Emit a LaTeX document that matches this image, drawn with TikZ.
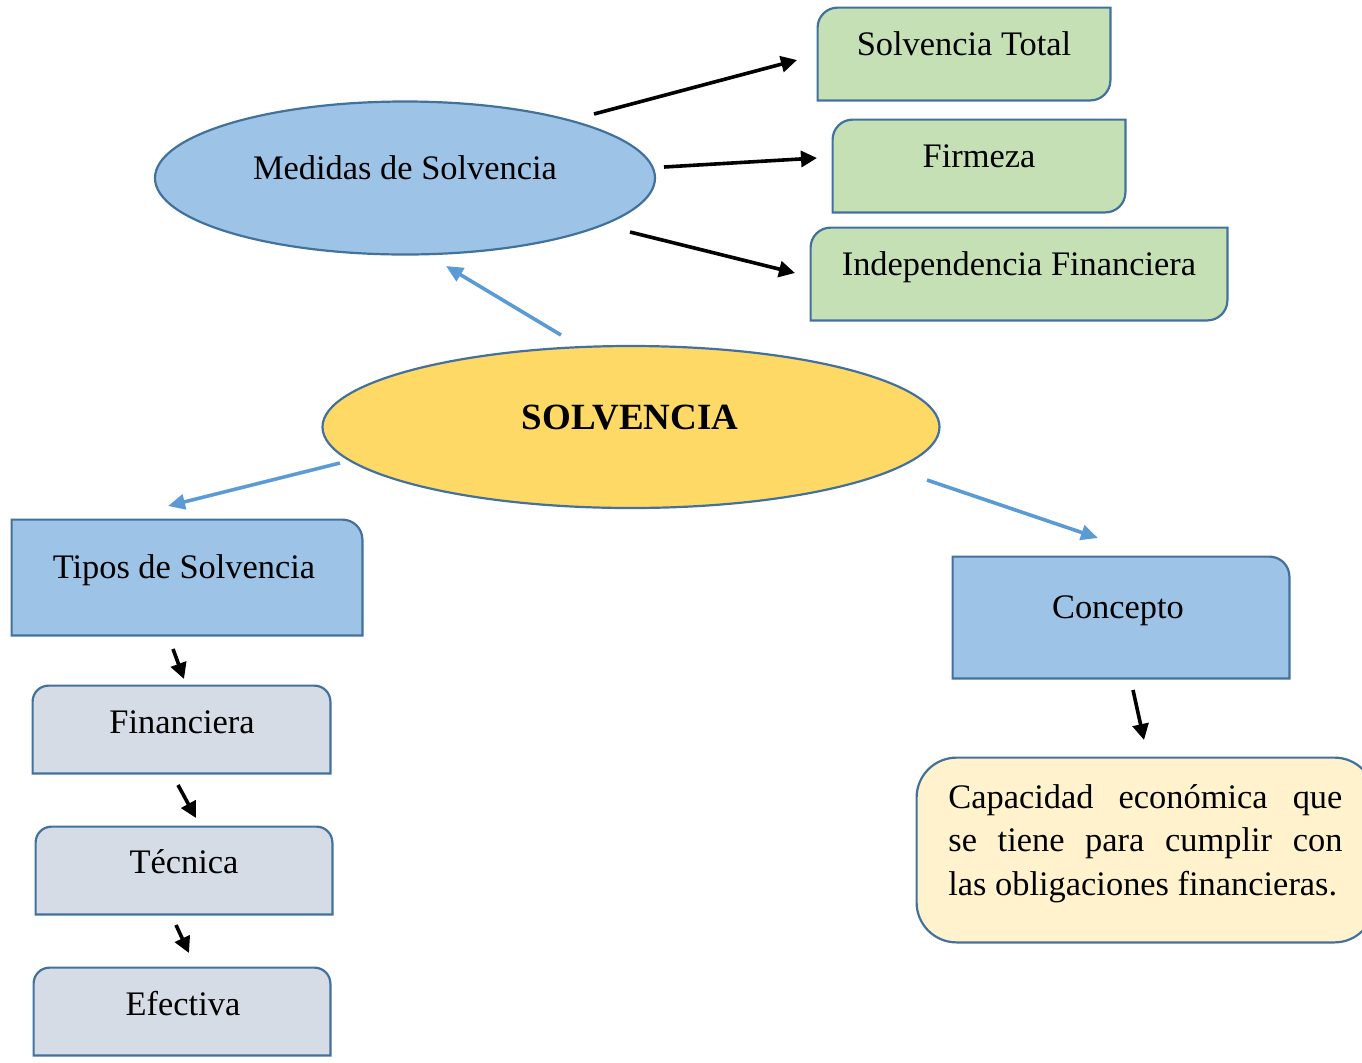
\documentclass[tikz,border=0pt]{standalone}
\usepackage{fontspec}
\setmainfont{Liberation Serif}
\usetikzlibrary{shapes.geometric,fit,arrows.meta}

\definecolor{edgeblue}{HTML}{41719C}
\definecolor{lightblue}{HTML}{9DC3E6}
\definecolor{gold}{HTML}{FFD966}
\definecolor{palegreen}{HTML}{C5E0B4}
\definecolor{palegray}{HTML}{D6DCE5}
\definecolor{cream}{HTML}{FFF2CC}
\definecolor{linkblue}{HTML}{5B9BD5}

% box with rounded top-left and bottom-right corners
\newcommand\boxTLBR[3]{%
  \path[fill=#2, outline, rounded corners=#3]
    (#1.south west) -- (#1.north west) -- (#1.north east)
    (#1.north east) -- (#1.south east) -- (#1.south west);}
% box with only the top-right corner rounded
\newcommand\boxTR[3]{%
  \path[fill=#2, outline, rounded corners=#3]
    (#1.north west) -- (#1.north east) -- (#1.south east)
    [sharp corners] (#1.south east) -- (#1.south west) -- (#1.north west);}
% box with both top corners rounded
\newcommand\boxTop[3]{%
  \path[fill=#2, outline, rounded corners=#3]
    (#1.south west) -- (#1.north west) -- (#1.north east) -- (#1.south east)
    [sharp corners] (#1.south east) -- (#1.south west);}

\begin{document}
\begin{tikzpicture}[x=0.5pt,y=-0.5pt,
  lbl/.style={anchor=base, inner sep=0pt, font=\fontsize{17.2}{21.5}\selectfont},
  frame/.style={inner sep=0pt, draw=none},
  outline/.style={draw=edgeblue, line width=1.1pt, line cap=rect},
  oval/.style={ellipse, draw=edgeblue, line width=1.1pt, inner sep=0pt},
  blk/.style={-{Triangle[length=8pt,width=8pt]}, line width=1.8pt, black},
  blu/.style={-{Triangle[length=8.5pt,width=7.5pt]}, line width=1.8pt, linkblue}]

\useasboundingbox (0,0) rectangle (1362,1062);

% ---- ellipses
\node[oval, fill=lightblue, minimum width=250pt, minimum height=76.5pt] (med) at (405,178) {};
\node[lbl] (medt) at (405,179) {Medidas de Solvencia};

\node[oval, fill=gold, minimum width=308.5pt, minimum height=81pt] (solv) at (631,427) {};
\node[lbl, font=\fontsize{18.5}{22}\selectfont\bfseries] (solvt) at (630,429) {SOLVENCIA};

% ---- measures
\node[frame, fit={(818,8) (1110,100)}] (st) {};
\boxTLBR{st}{palegreen}{10pt}
\node[lbl] (stt) at (964,55) {Solvencia Total};

\node[frame, fit={(833,120) (1125,212)}] (fir) {};
\boxTLBR{fir}{palegreen}{10pt}
\node[lbl] (firt) at (979,167) {Firmeza};

\node[frame, fit={(811,228) (1227,320)}] (ind) {};
\boxTLBR{ind}{palegreen}{10pt}
\node[lbl] (indt) at (1019,275) {Independencia Financiera};

% ---- types
\node[frame, fit={(12,520) (362,635)}] (tip) {};
\boxTR{tip}{lightblue}{10pt}
\node[lbl] (tipt) at (184,578) {Tipos de Solvencia};

\node[frame, fit={(33,686) (330,773)}] (fin) {};
\boxTop{fin}{palegray}{8pt}
\node[lbl] (fint) at (182,733) {Financiera};

\node[frame, fit={(36,827) (332,914)}] (tec) {};
\boxTop{tec}{palegray}{8pt}
\node[lbl] (tect) at (184,873) {Técnica};

\node[frame, fit={(34,968) (330,1055)}] (efe) {};
\boxTop{efe}{palegray}{8pt}
\node[lbl] (efet) at (183,1015) {Efectiva};

% ---- concept
\node[frame, fit={(953,557) (1289,678)}] (con) {};
\boxTR{con}{lightblue}{10pt}
\node[lbl] (cont) at (1118,618) {Concepto};

\node[frame, fit={(917,758) (1374,942)}] (def) {};
\path[fill=cream, outline, rounded corners=20pt] (def.south west) rectangle (def.north east);
\node[lbl, anchor=base west] (def1) at (948,808) {\makebox[197pt][s]{Capacidad económica que}};
\node[lbl, anchor=base west] (def2) at (948,851.5) {\makebox[197pt][s]{se tiene para cumplir con}};
\node[lbl, anchor=base west] (def3) at (948,895) {las obligaciones financieras.};

% ---- connector end points
\coordinate (m1) at (594,114);  \coordinate (st-in) at (797,60);
\coordinate (m2) at (664,167);  \coordinate (fir-in) at (817,158);
\coordinate (m3) at (630,232);  \coordinate (ind-in) at (795,273);
\coordinate (s1) at (561,335);  \coordinate (med-in) at (446,266);
\coordinate (s2) at (340,463);  \coordinate (tip-in) at (168,506);
\coordinate (s3) at (927,480);  \coordinate (con-in) at (1098,538);
\coordinate (t1) at (173,649);  \coordinate (fin-in) at (184,679);
\coordinate (f1) at (178,785);  \coordinate (tec-in) at (196,818);
\coordinate (c1) at (176,925);  \coordinate (efe-in) at (189,953);
\coordinate (k1) at (1133,690); \coordinate (def-in) at (1144,740);

% ---- connectors
\draw[blk] (m1) -- (st-in);
\draw[blk] (m2) -- (fir-in);
\draw[blk] (m3) -- (ind-in);
\draw[blu] (s1) -- (med-in);
\draw[blu] (s2) -- (tip-in);
\draw[blu] (s3) -- (con-in);
\draw[blk] (t1) -- (fin-in);
\draw[blk] (f1) -- (tec-in);
\draw[blk] (c1) -- (efe-in);
\draw[blk] (k1) -- (def-in);
\end{tikzpicture}
\end{document}
